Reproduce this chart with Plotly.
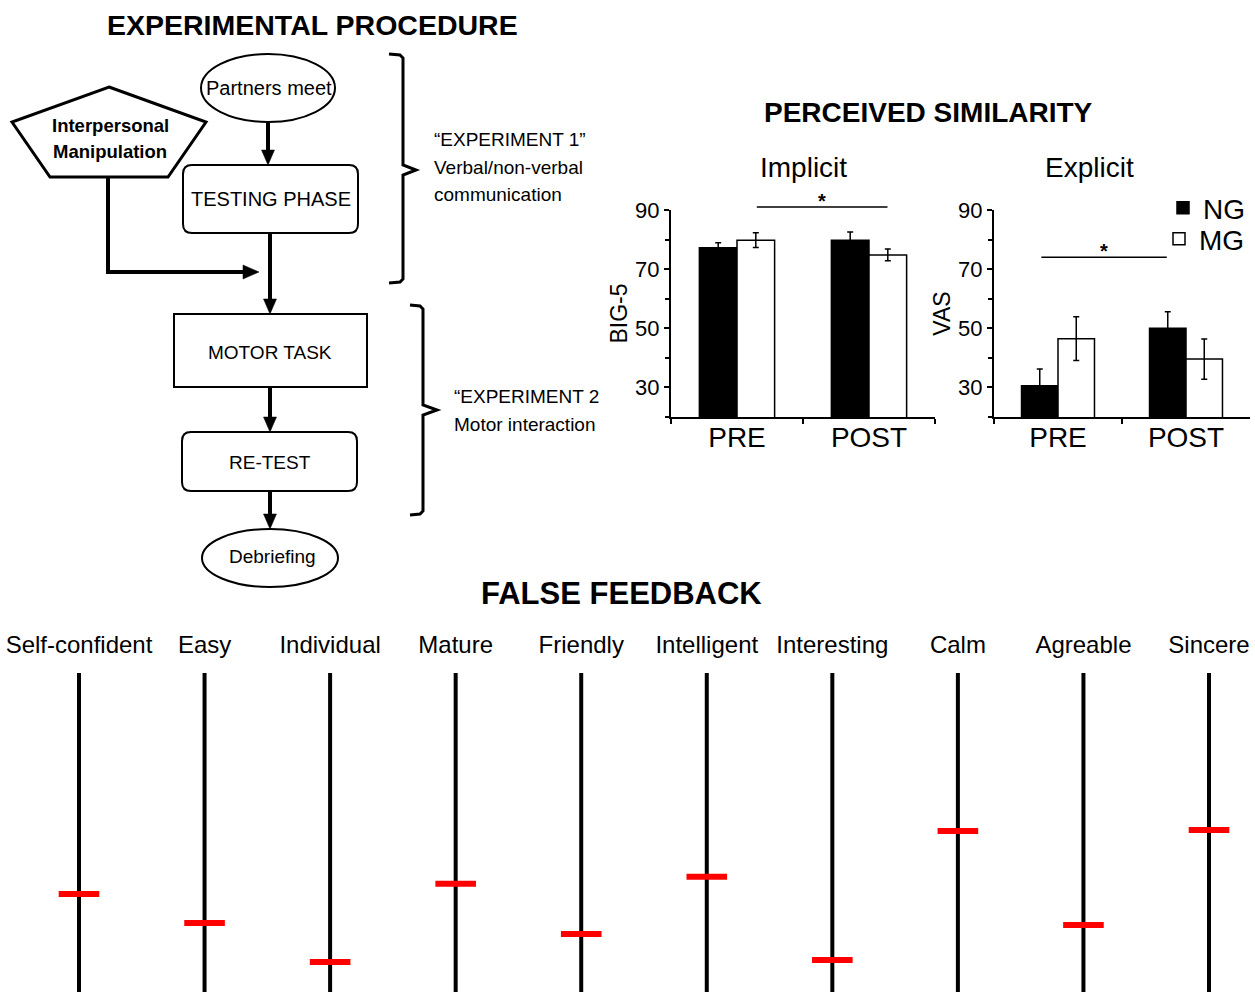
import plotly.graph_objects as go

W, H = 1255, 992
FONT = "Liberation Sans, Arial, sans-serif"

# ---------------- data ----------------
phases = ["PRE", "POST"]
groups = ["NG", "MG"]
implicit_ng = [77.2, 79.8]
implicit_ng_err = [1.7, 2.8]
implicit_mg = [79.8, 74.8]
implicit_mg_err = [2.5, 2.0]
explicit_ng = [30.6, 50.0]
explicit_ng_err = [5.6, 5.6]
explicit_mg = [46.5, 39.6]
explicit_mg_err = [7.4, 6.8]

traits = ["Self-confident", "Easy", "Individual", "Mature", "Friendly",
          "Intelligent", "Interesting", "Calm", "Agreable", "Sincere"]
feedback = [30.7, 21.6, 9.4, 33.9, 18.2, 36.1, 10.0, 50.5, 21.0, 50.8]
scale_ends = [0, 100]

yticks = [30, 50, 70, 90]


def PX(x):
    return x / W


def PY(y):
    return 1 - y / H


fig = go.Figure()

# ---------------- bar charts ----------------
def add_bars(ng, ng_err, mg, mg_err, xa, ya, show):
    fig.add_trace(go.Bar(
        x=phases, y=ng, name="NG", xaxis=xa, yaxis=ya,
        marker=dict(color="black", line=dict(color="black", width=1.5)),
        error_y=dict(type="data", array=ng_err, color="black", thickness=1.5, width=3),
        showlegend=show, legend="legend"))
    fig.add_trace(go.Bar(
        x=phases, y=mg, name="MG", xaxis=xa, yaxis=ya,
        marker=dict(color="white", line=dict(color="black", width=1.5)),
        error_y=dict(type="data", array=mg_err, color="black", thickness=1.5, width=3),
        showlegend=show, legend="legend2"))


add_bars(implicit_ng, implicit_ng_err, implicit_mg, implicit_mg_err, "x", "y", True)
add_bars(explicit_ng, explicit_ng_err, explicit_mg, explicit_mg_err, "x2", "y2", False)

# ---------------- false feedback ----------------
lx, ly = [], []
for t in traits:
    lx += [t, t, None]
    ly += [scale_ends[0], scale_ends[1], None]
fig.add_trace(go.Scatter(x=lx, y=ly, mode="lines", xaxis="x3", yaxis="y3",
                         line=dict(color="black", width=4), showlegend=False,
                         hoverinfo="skip"))
fig.add_trace(go.Scatter(x=traits, y=feedback, mode="markers", xaxis="x3", yaxis="y3",
                         marker=dict(symbol="line-ew", size=29,
                                     line=dict(color="#ff0000", width=6)),
                         showlegend=False, cliponaxis=False))

bar_y_dom = [PY(417), PY(210)]
axis_common = dict(showline=True, linecolor="black", linewidth=2, showgrid=False,
                   zeroline=False, ticks="outside", ticklen=5, tickwidth=1.5,
                   tickcolor="black", automargin=False)

yax = dict(axis_common, range=[20, 90], tickmode="array", tickvals=yticks,
           tickfont=dict(family=FONT, size=22, color="black"),
           minor=dict(tickmode="array", tickvals=[20, 40, 60, 80], ticks="outside",
                      ticklen=4, tickwidth=1.5, tickcolor="black"),
           domain=bar_y_dom)
xax = dict(axis_common, tickson="boundaries", ticklabelstandoff=-6,
           tickfont=dict(family=FONT, size=28, color="black"))

ff_first, ff_last = 79, 1209
step = (ff_last - ff_first) / (len(traits) - 1)
ff_range = [-ff_first / step, (len(traits) - 1) + (W - ff_last) / step]

leg_common = dict(xanchor="right", yanchor="middle", bgcolor="rgba(0,0,0,0)",
                  font=dict(family=FONT, size=28, color="black"), itemclick=False,
                  borderwidth=0)

fig.update_layout(
    width=W, height=H, margin=dict(l=0, r=0, t=0, b=0, pad=0, autoexpand=False),
    paper_bgcolor="white", plot_bgcolor="white",
    barmode="group", bargap=0.43, bargroupgap=0,
    font=dict(family=FONT, color="black"),
    xaxis=dict(xax, domain=[PX(671), PX(935)], anchor="y"),
    yaxis=dict(yax, anchor="x",
               title=dict(text="BIG-5", font=dict(family=FONT, size=23, color="black"), standoff=1)),
    xaxis2=dict(xax, domain=[PX(994), PX(1250)], anchor="y2"),
    yaxis2=dict(yax, anchor="x2",
                title=dict(text="VAS", font=dict(family=FONT, size=23, color="black"), standoff=1)),
    xaxis3=dict(domain=[0, 1], anchor="y3", range=ff_range, side="top",
                showline=False, showgrid=False, zeroline=False, ticks="",
                categoryorder="array", categoryarray=traits, automargin=False,
                tickfont=dict(family=FONT, size=24, color="black"),
                ticklabelstandoff=14),
    yaxis3=dict(domain=[0, PY(673)], anchor="x3", range=[0, 100], visible=False,
                automargin=False),
    legend=dict(leg_common, x=PX(1250), y=PY(208)),
    legend2=dict(leg_common, x=PX(1250), y=PY(239)),
)

# ---------------- annotations / shapes ----------------
ann = []
shapes = []


def text(x, y, s, size, bold=False, family=FONT, xanchor="center"):
    ann.append(dict(x=PX(x), y=PY(y), xref="paper", yref="paper", showarrow=False,
                    text=("<b>%s</b>" % s) if bold else s, xanchor=xanchor, yanchor="middle",
                    font=dict(family=family, size=size, color="black")))


text(312, 25, "EXPERIMENTAL PROCEDURE", 28.5, bold=True)
text(928, 113, "PERCEIVED SIMILARITY", 28, bold=True)
text(621, 593, "FALSE FEEDBACK", 31, bold=True)
text(803, 168, "Implicit", 28)
text(1089, 168, "Explicit", 28)


# significance markers (data units on each bar axis)
def bar_px(xdata, ydata, x0px, x1px):
    xp = x0px + (xdata + 0.5) / 2 * (x1px - x0px)
    yp = 417 - (ydata - 20) / 70 * (417 - 210)
    return xp, yp


for (xa, xb, yv, x0px, x1px) in [(0.15, 1.14, 91, 671, 935), (-0.13, 0.85, 74, 994, 1250)]:
    ax_, ay_ = bar_px(xa, yv, x0px, x1px)
    bx_, _ = bar_px(xb, yv, x0px, x1px)
    shapes.append(dict(type="line", xref="paper", yref="paper", x0=PX(ax_), x1=PX(bx_),
                       y0=PY(ay_), y1=PY(ay_), line=dict(color="black", width=1.5)))
    text((ax_ + bx_) / 2, ay_ - 6, "<b>*</b>", 20)

# flowchart helpers
LW = 2


def ellipse(cx, cy, rx, ry):
    shapes.append(dict(type="circle", xref="paper", yref="paper",
                       x0=PX(cx - rx), x1=PX(cx + rx), y0=PY(cy + ry), y1=PY(cy - ry),
                       line=dict(color="black", width=LW), fillcolor="white"))


def rrect(x0, y0, x1, y1, r):
    def p(x, y):
        return "%f,%f" % (PX(x), PY(y))
    d = ("M " + p(x0 + r, y0) + " L " + p(x1 - r, y0) + " Q " + p(x1, y0) + " " + p(x1, y0 + r) +
         " L " + p(x1, y1 - r) + " Q " + p(x1, y1) + " " + p(x1 - r, y1) +
         " L " + p(x0 + r, y1) + " Q " + p(x0, y1) + " " + p(x0, y1 - r) +
         " L " + p(x0, y0 + r) + " Q " + p(x0, y0) + " " + p(x0 + r, y0) + " Z")
    shapes.append(dict(type="path", xref="paper", yref="paper", path=d,
                       line=dict(color="black", width=LW), fillcolor="white"))


def poly(pts, width=LW, fill=None, closed=False, color="black"):
    d = "M " + " L ".join("%f,%f" % (PX(x), PY(y)) for x, y in pts)
    if closed:
        d += " Z"
    s = dict(type="path", xref="paper", yref="paper", path=d,
             line=dict(color=color, width=width))
    if fill:
        s["fillcolor"] = fill
    shapes.append(s)


def varrow(x, y0, y1):
    poly([(x, y0), (x, y1 - 12)], width=4)
    poly([(x - 6.5, y1 - 15), (x + 6.5, y1 - 15), (x, y1)], width=0.5, fill="black", closed=True)


# arrows
varrow(268, 122, 165)
varrow(270, 233, 314)
varrow(270, 387, 432)
varrow(270, 491, 529)
poly([(108, 177), (108, 272), (246, 272)], width=4)
poly([(243, 265), (243, 279), (259, 272)], width=0.5, fill="black", closed=True)

# boxes
ellipse(268, 88, 67, 34)
text(269, 88, "Partners meet", 20)
rrect(183, 165, 358, 233, 9)
text(271, 199, "TESTING PHASE", 20)
poly([(109, 87), (206, 122), (168, 177), (50, 177), (12, 122)], width=3, fill="white", closed=True)
text(110, 126, "Interpersonal", 18.5, bold=True)
text(110, 151, "Manipulation", 18.5, bold=True)
poly([(174, 314), (367, 314), (367, 387), (174, 387)], width=LW, fill="white", closed=True)
text(270, 352, "MOTOR TASK", 19)
rrect(182, 432, 357, 491, 9)
text(270, 462, "RE-TEST", 19)
ellipse(270, 558, 68, 29)
text(272, 556, "Debriefing", 19)

# braces
poly([(389, 54), (400, 55), (403, 58), (403, 165), (416, 170), (403, 175),
      (403, 279), (400, 282), (389, 283)], width=3)
poly([(410, 305), (420, 306), (423, 309), (423, 405), (437, 410), (423, 415),
      (423, 511), (420, 514), (410, 515)], width=3)

text(432, 139, "\u201cEXPERIMENT 1\u201d", 19, xanchor="left")
text(432, 167, "Verbal/non-verbal", 19, xanchor="left")
text(432, 195, "communication", 19, xanchor="left")
text(452, 396, "\u201cEXPERIMENT 2", 19, xanchor="left")
text(452, 424, "Motor interaction", 19, xanchor="left")

fig.update_layout(annotations=ann, shapes=shapes)

fig.write_html("out.html")
